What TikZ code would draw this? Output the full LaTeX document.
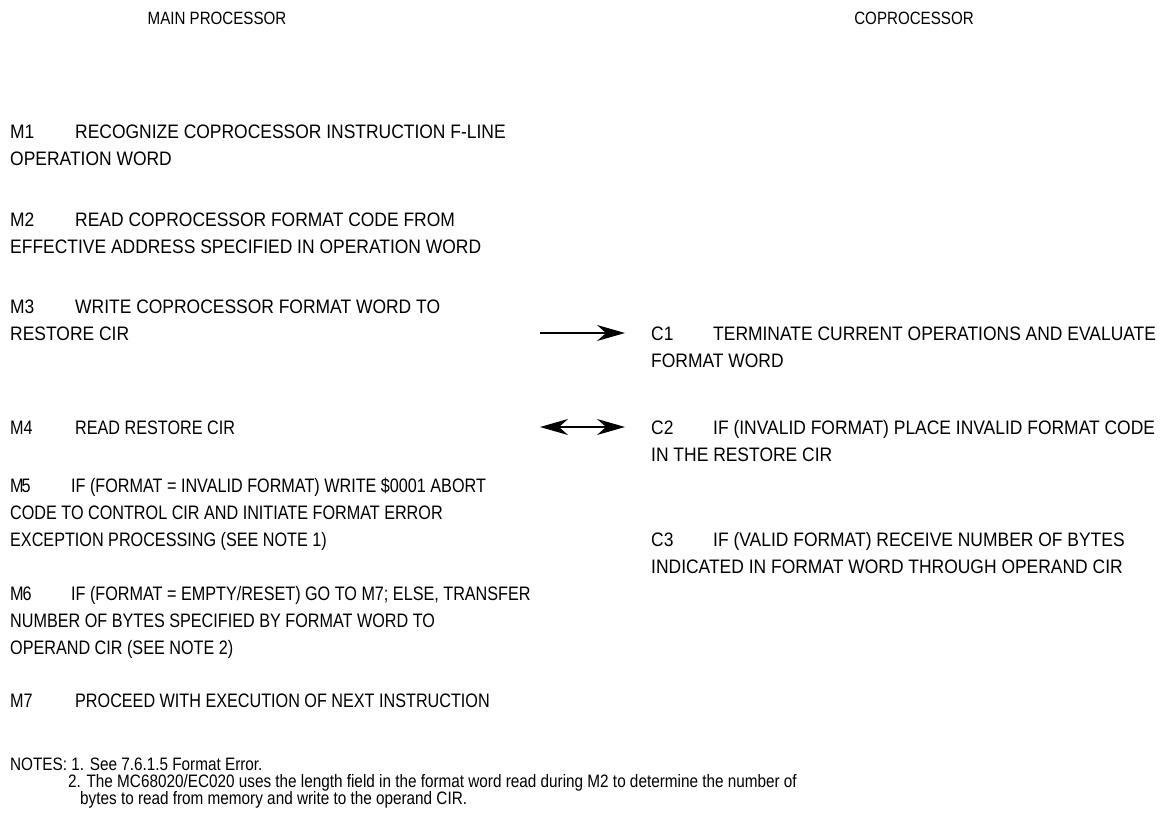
\documentclass[tikz,border=0pt]{standalone}
\usepackage{fontspec}
\setmainfont{Liberation Sans}[FakeStretch=0.895]
\newfontfamily\narrowfont{Liberation Sans}[FakeStretch=0.83]
\newfontfamily\notefont{Liberation Sans}[FakeStretch=0.85]
\newfontfamily\headfont{Liberation Sans}[FakeStretch=0.85]
\usetikzlibrary{positioning}
\usetikzlibrary{arrows.meta}

\tikzset{
  steptext/.style={anchor=base west, inner sep=0pt, align=left, font=\fontsize{19.5}{27}\selectfont},
  narrowstep/.style={steptext, font=\narrowfont\fontsize{19.5}{27}\selectfont},
  notetext/.style={anchor=base west, inner sep=0pt, align=left, font=\notefont\fontsize{18}{17}\selectfont},
  headtext/.style={inner sep=0pt, font=\headfont\fontsize{17.8}{22}\selectfont},
  swept/.style={-{Stealth[length=28pt,width=16pt,inset=9pt]}, line width=1.5pt},
  sweptboth/.style={{Stealth[length=28pt,width=16pt,inset=9pt]}-{Stealth[length=28pt,width=16pt,inset=9pt]}, line width=1.5pt},
}
\newcommand{\stepno}[2][65pt]{\makebox[#1][l]{#2}}

\begin{document}
\begin{tikzpicture}[x=1pt, y=-1pt]
    \useasboundingbox (0,0) rectangle (1161,819);

    % column heads
    \node[headtext] (mainhd) at (217,18) {MAIN PROCESSOR};
    \node[headtext] (cohd) at (914,18) {COPROCESSOR};

    % main processor steps (placed by the baseline of their last line)
    \node[steptext] (m1) at (10,165) {\stepno{M1}RECOGNIZE COPROCESSOR INSTRUCTION F-LINE\\OPERATION WORD};
    \node[steptext] (m2) at (10,253) {\stepno{M2}READ COPROCESSOR FORMAT CODE FROM\\EFFECTIVE ADDRESS SPECIFIED IN OPERATION WORD};
    \node[steptext] (m3) at (10,340) {\stepno{M3}WRITE COPROCESSOR FORMAT WORD TO\\RESTORE CIR};
    \node[narrowstep] (m4) at (10,434) {\stepno{M4}READ RESTORE CIR};
    \node[narrowstep] (m5) at (10,546) {\stepno[61pt]{M\kern-2pt5}IF (FORMAT = INVALID FORMAT) WRITE \$0001 ABORT\\CODE TO CONTROL CIR AND INITIATE FORMAT ERROR\\EXCEPTION PROCESSING (SEE NOTE 1)};
    \node[narrowstep] (m6) at (10,654) {\stepno[61pt]{M\kern-1pt6}IF (FORMAT = EMPTY/RESET) GO TO M7; ELSE, TRANSFER\\NUMBER OF BYTES SPECIFIED BY FORMAT WORD TO\\OPERAND CIR (SEE NOTE 2)};
    \node[narrowstep] (m7) at (10,707) {\stepno{M7}PROCEED WITH EXECUTION OF NEXT INSTRUCTION};

    % coprocessor steps
    \node[steptext] (c1) at (651,367) {\stepno[62pt]{C1}TERMINATE CURRENT OPERATIONS AND EVALUATE\\FORMAT WORD};
    \node[steptext] (c2) at (651,461) {\stepno[62pt]{C2}IF (INVALID FORMAT) PLACE INVALID FORMAT CODE\\IN THE RESTORE CIR};
    \node[steptext] (c3) at (651,573) {\stepno[62pt]{C3}IF (VALID FORMAT) RECEIVE NUMBER OF BYTES\\INDICATED IN FORMAT WORD THROUGH OPERAND CIR};

    % notes
    \node[notetext] (notes) at (10,804) {NOTES: 1. See 7.6.1.5 Format Error.\\
      \hspace*{58pt}2. The MC68020/EC020 uses the length field in the format word read during M2 to determine the number of\\
      \hspace*{70pt}bytes to read from memory and write to the operand CIR.};

    % transfers
    \coordinate (m3out) at (540,333);
    \coordinate (c1in) at (625,333);
    \coordinate (m4out) at (540,427);
    \coordinate (c2in) at (625,427);
    \draw[swept] (m3out) -- (c1in);
    \draw[sweptboth] (m4out) -- (c2in);
\end{tikzpicture}
\end{document}
